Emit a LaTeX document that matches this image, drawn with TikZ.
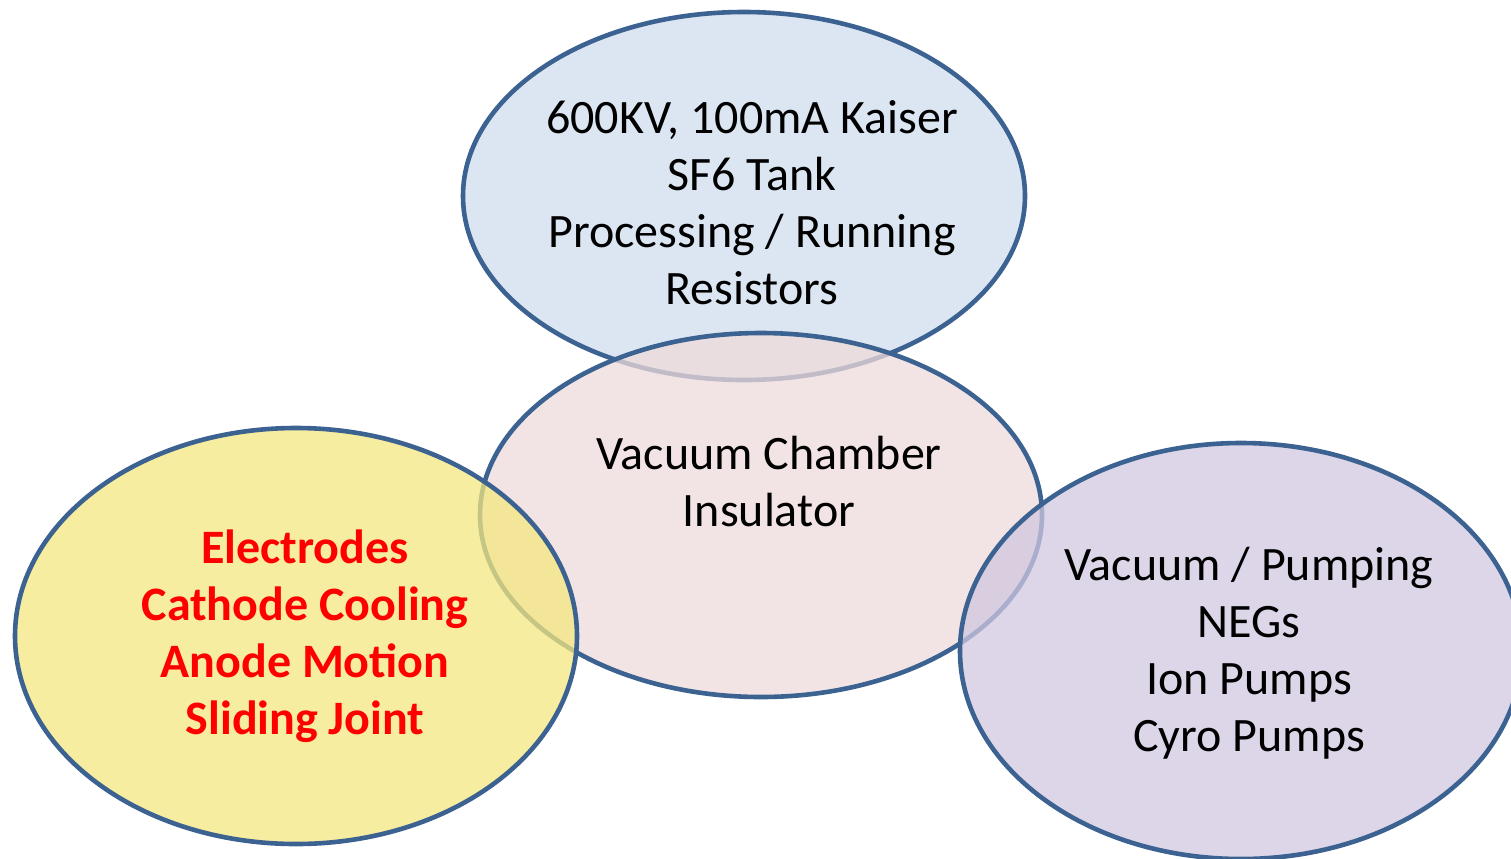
\documentclass[tikz,border=0pt]{standalone}
\usepackage{fontspec}
\setmainfont{Carlito}
\definecolor{rimblue}{RGB}{60,98,145}
\definecolor{skyfill}{RGB}{208,222,238}
\definecolor{rosefill}{RGB}{238,219,219}
\definecolor{sunfill}{RGB}{244,231,128}
\definecolor{lilacfill}{RGB}{208,200,224}
\tikzset{
  bubble/.style={draw=rimblue, line width=2.3pt, fill opacity=.75, draw opacity=1},
  txt/.style={align=center, font=\fontsize{24}{28.5}\selectfont},
  hot/.style={txt, text=red, font=\fontsize{24}{28.5}\selectfont\bfseries}
}
\begin{document}
\begin{tikzpicture}[x=.5pt, y=-.5pt]
\useasboundingbox (0,0) rectangle (1511,858);
\draw[bubble, fill=skyfill](744,196) ellipse (281 and 184);
\draw[bubble, fill=rosefill](761,515) ellipse (281 and 182);
\draw[bubble, fill=sunfill](296,636) ellipse (281 and 208);
\draw[bubble, fill=lilacfill](1241,651) ellipse (281 and 208);
\node[txt] (tank) at (752,203) {600KV, 100mA Kaiser\\SF6 Tank\\Processing / Running\\Resistors};
\node[txt] (chamber) at (769,482) {Vacuum Chamber\\Insulator};
\node[hot] (electrodes) at (305,636) {Electrodes\\Cathode Cooling\\Anode Motion\\Sliding Joint};
\node[txt] (pumping) at (1249,653) {Vacuum / Pumping\\NEGs\\Ion Pumps\\Cyro Pumps};
\end{tikzpicture}
\end{document}
